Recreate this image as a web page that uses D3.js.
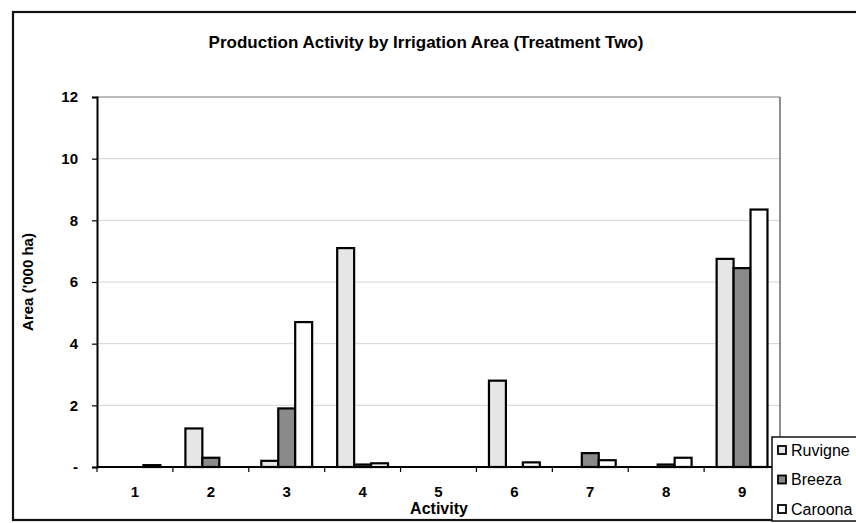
<!DOCTYPE html>
<html>
<head>
<meta charset="utf-8">
<script src="https://cdn.jsdelivr.net/npm/d3@7"></script>
<style>
  body { margin: 0; background: #fff; }
  text { font-family: "Liberation Sans", Arial, sans-serif; }
</style>
</head>
<body>
<svg width="856" height="523"></svg>
<script>
var activities = ["1", "2", "3", "4", "5", "6", "7", "8", "9"];
var seriesNames = ["Ruvigne", "Breeza", "Caroona"];
var ruvigne = [0, 1.25, 0.2, 7.1, 0, 2.8, 0, 0, 6.75];
var breeza  = [0, 0.3, 1.9, 0.08, 0, 0, 0.45, 0.08, 6.45];
var caroona = [0.06, 0, 4.7, 0.12, 0, 0.15, 0.22, 0.3, 8.35];
var yTicks = [0, 2, 4, 6, 8, 10, 12];
var fills = ["#e6e6e6", "#8a8a8a", "#ffffff"];

var svg = d3.select("svg"),
    width = +svg.attr("width"),
    height = +svg.attr("height");

var margin = {left: 97, top: 97, right: 780, bottom: 467};

// outer frame (scanned chart border)
svg.append("rect")
    .attr("x", 13).attr("y", 12)
    .attr("width", 860).attr("height", 508)
    .attr("fill", "none").attr("stroke", "#111").attr("stroke-width", 2.2);

svg.append("text")
    .attr("x", 426).attr("y", 48)
    .attr("text-anchor", "middle")
    .attr("font-size", 17).attr("font-weight", "bold")
    .text("Production Activity by Irrigation Area (Treatment Two)");

var x = d3.scaleBand()
    .domain(activities)
    .range([margin.left, margin.right])
    .paddingInner(0.33).paddingOuter(0.165);

var xs = d3.scaleBand()
    .domain(seriesNames)
    .range([0, x.bandwidth()]);

var y = d3.scaleLinear()
    .domain([0, 12])
    .range([margin.bottom, margin.top]);

// gridlines
svg.append("g")
    .selectAll("line")
    .data(yTicks.filter(function (d) { return d > 0; }))
    .enter().append("line")
    .attr("x1", margin.left).attr("x2", margin.right)
    .attr("y1", function (d) { return y(d); })
    .attr("y2", function (d) { return y(d); })
    .attr("stroke", function (d) { return d == 12 ? "#777" : "#d4d4d4"; })
    .attr("stroke-width", 1);

// right plot border
svg.append("line")
    .attr("x1", margin.right).attr("x2", margin.right)
    .attr("y1", margin.top).attr("y2", margin.bottom)
    .attr("stroke", "#444").attr("stroke-width", 1.2);

var table = activities.map(function (a, i) {
    return {activity: a, values: [ruvigne[i], breeza[i], caroona[i]]};
});

var groups = svg.append("g")
    .selectAll("g")
    .data(table)
    .enter().append("g")
    .attr("transform", function (d) { return "translate(" + x(d.activity) + ",0)"; });

groups.selectAll("rect")
    .data(function (d) {
        return d.values.map(function (v, j) { return {name: seriesNames[j], value: v, j: j}; })
            .filter(function (e) { return e.value > 0; });
    })
    .enter().append("rect")
    .attr("x", function (d) { return xs(d.name); })
    .attr("width", xs.bandwidth())
    .attr("y", function (d) { return y(d.value); })
    .attr("height", function (d) { return y(0) - y(d.value); })
    .attr("fill", function (d) { return fills[d.j]; })
    .attr("stroke", "#000").attr("stroke-width", 2.2);

// y axis
var yAxis = svg.append("g")
    .attr("transform", "translate(" + margin.left + ",0)")
    .call(d3.axisLeft(y).tickValues(yTicks).tickSize(5).tickPadding(14)
        .tickFormat(function (d) { return d == 0 ? "-" : d; }));
yAxis.select(".domain").attr("stroke", "#000").attr("stroke-width", 2);
yAxis.selectAll(".tick line").attr("stroke", "#000").attr("stroke-width", 1.2);
yAxis.selectAll(".tick text")
    .attr("font-size", 15).attr("font-weight", "bold").attr("fill", "#000");

// x axis
var boundaries = activities.map(function (a) {
    return x(a) - x.step() * x.paddingInner() / 2;
});
boundaries.push(margin.right);
var xAxis = svg.append("g");
xAxis.append("line")
    .attr("x1", margin.left).attr("x2", margin.right)
    .attr("y1", margin.bottom).attr("y2", margin.bottom)
    .attr("stroke", "#000").attr("stroke-width", 2);
xAxis.selectAll(".xt")
    .data(boundaries)
    .enter().append("line")
    .attr("class", "xt")
    .attr("x1", function (d) { return d; }).attr("x2", function (d) { return d; })
    .attr("y1", margin.bottom).attr("y2", margin.bottom + 5)
    .attr("stroke", "#000").attr("stroke-width", 1.2);
xAxis.selectAll("text")
    .data(activities)
    .enter().append("text")
    .attr("x", function (d) { return x(d) + x.bandwidth() / 2; })
    .attr("y", 497)
    .attr("text-anchor", "middle")
    .attr("font-size", 15).attr("font-weight", "bold")
    .text(function (d) { return d; });

svg.append("text")
    .attr("x", 439).attr("y", 514)
    .attr("text-anchor", "middle")
    .attr("font-size", 16).attr("font-weight", "bold")
    .text("Activity");

svg.append("text")
    .attr("transform", "translate(33,282) rotate(-90)")
    .attr("text-anchor", "middle")
    .attr("font-size", 15).attr("font-weight", "bold")
    .text("Area ('000 ha)");

// legend
var legend = svg.append("g").attr("transform", "translate(772,437)");
legend.append("rect")
    .attr("x", 0).attr("y", 0).attr("width", 100).attr("height", 84)
    .attr("fill", "#fff").attr("stroke", "#111").attr("stroke-width", 1.5);
var li = legend.selectAll(".li")
    .data(seriesNames)
    .enter().append("g")
    .attr("class", "li")
    .attr("transform", function (d, i) { return "translate(6," + (13 + i * 29.5) + ")"; });
li.append("rect")
    .attr("x", 0).attr("y", -4).attr("width", 8).attr("height", 8)
    .attr("fill", function (d, i) { return fills[i]; })
    .attr("stroke", "#000").attr("stroke-width", 1.8);
li.append("text")
    .attr("x", 13).attr("y", 5.5)
    .attr("font-size", 16)
    .text(function (d) { return d; });
</script>
</body>
</html>
